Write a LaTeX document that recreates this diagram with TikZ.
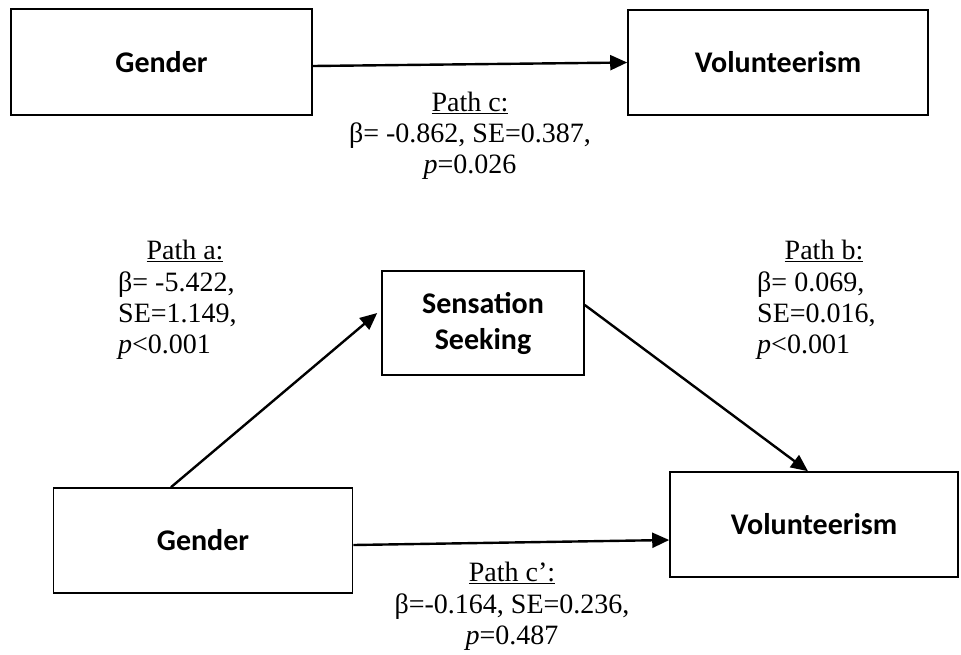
\documentclass[tikz,border=0pt]{standalone}
\usepackage{fontspec}
\setmainfont{Liberation Serif}
\newfontfamily\boxfont{Carlito}
\usetikzlibrary{arrows.meta}
\begin{document}
\begin{tikzpicture}[x=1pt,y=-1pt,
  box/.style={draw, line width=1.6pt, inner sep=0pt, align=center,
    font=\boxfont\bfseries\fontsize{30}{36}\selectfont},
  conn/.style={line width=2.4pt, -{Triangle[length=17pt,width=15pt]}},
  lbl/.style={font=\fontsize{28}{32}\selectfont, inner sep=0pt}]
\useasboundingbox (0,0) rectangle (961,654);
% boxes
\node[box, minimum width=301pt, minimum height=106pt] (gt) at (161.5,62) {Gender};
\node[box, minimum width=300pt, minimum height=105pt] (vt) at (778,62.5) {Volunteerism};
\node[box, minimum width=202pt, minimum height=104pt] (ss) at (483,323) {Sensation\\Seeking};
\node[box, minimum width=299pt, minimum height=105pt] (gb) at (203,540.5) {Gender};
\node[box, minimum width=288pt, minimum height=105pt] (vb) at (814,524.5) {Volunteerism};
% connectors
\draw[conn] ([yshift=-4pt]gt.east) -- (vt.west);
\draw[conn] ([xshift=-32pt]gb.north) -- ([xshift=-4pt,yshift=10pt]ss.west);
\draw[conn] ([yshift=18pt]ss.east) -- ([xshift=-6pt]vb.north);
\draw[conn] ([yshift=-4.5pt]gb.east) -- ([yshift=-15.5pt]vb.west);
% path c
\node[lbl, anchor=base] (c1) at (470,111) {\underline{Path c:}};
\node[lbl, anchor=base] (c2) at (470,142) {β= -0.862, SE=0.387,};
\node[lbl, anchor=base] (c3) at (470,173) {\textit{p}=0.026};
% path a
\node[lbl, anchor=base] (a1) at (185,259) {\underline{Path a:}};
\node[lbl, anchor=base west] (a2) at (118,291) {β= -5.422,};
\node[lbl, anchor=base west] (a3) at (118,322) {SE=1.149,};
\node[lbl, anchor=base west] (a4) at (118,353) {\textit{p}<0.001};
% path b
\node[lbl, anchor=base] (b1) at (824,259) {\underline{Path b:}};
\node[lbl, anchor=base west] (b2) at (757,291) {β= 0.069,};
\node[lbl, anchor=base west] (b3) at (757,322) {SE=0.016,};
\node[lbl, anchor=base west] (b4) at (757,353) {\textit{p}<0.001};
% path c'
\node[lbl, anchor=base] (d1) at (512,581) {\underline{Path c’:}};
\node[lbl, anchor=base] (d2) at (512,613) {β=-0.164, SE=0.236,};
\node[lbl, anchor=base] (d3) at (512,644) {\textit{p}=0.487};
\end{tikzpicture}
\end{document}
